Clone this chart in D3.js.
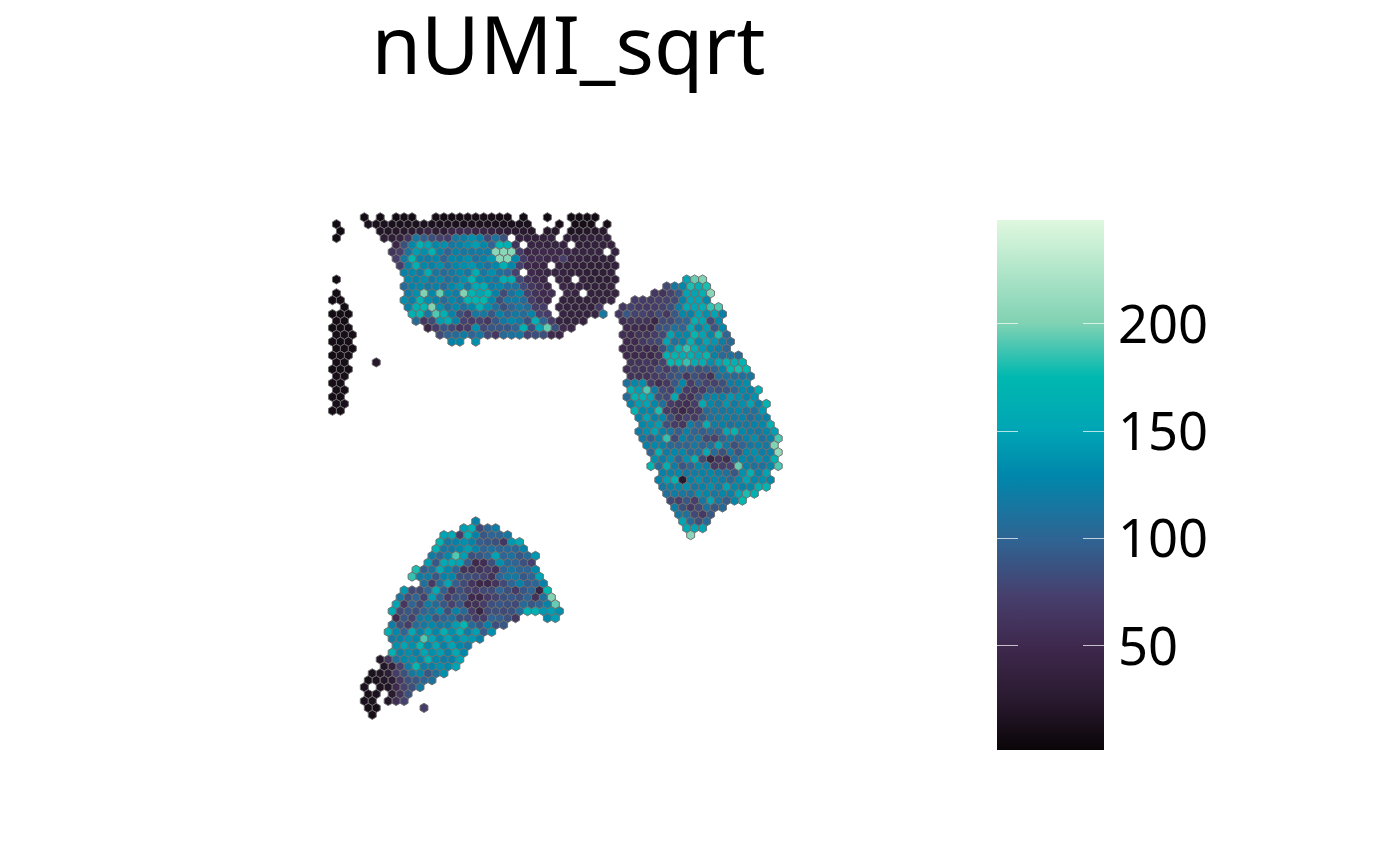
<!DOCTYPE html>
<html>
<head>
<meta charset="utf-8">
<style>
  html, body { margin: 0; padding: 0; background: #fff; }
  text { font-family: "Noto Sans", sans-serif; fill: #000; }
</style>
<script src="https://cdn.jsdelivr.net/npm/d3@7"></script>
</head>
<body>
<svg id="chart"></svg>
<script>
const _ = null; // no spot at this grid position

// each row: [array row, first array col, values every second col...]
const leftStrip = [
  [1,-7, 9], [2,-6, 8], [3,-7, 9], [9,-7, 8], [11,-7, 9], [12,-8, 8,10], [13,-5, 9],
  [14,-8, 9,10,8], [15,-7, 10,9], [16,-8, 9,10,9], [17,-7, 10,11,10], [18,-8, 10,9,10],
  [19,-7, 10,11,9], [20,-8, 9,10,10], [21,-7, 11,10], [21,3, 22], [22,-8, 9,10,10],
  [23,-7, 12,11], [24,-8, 10,12], [25,-7, 11,12], [26,-8, 11,10], [27,-7, 12,13], [28,-8, 10,11]
];

const topSection = [
  [0,0, 9,_,9,_,8,10,9,_,_,10,9,9,10,10,10,11,10,9,9,_,9,_,_,8,_,_,9,9,9,8],
  [1,1, 14,14,14,13,14,15,14,15,14,14,15,14,13,14,15,14,14,14,13,13,14,_,_,_,10,_,10,10,10,_,10],
  [2,4, 18,20,22,24,26,34,45,32,30,45,50,55,45,45,40,35,30,25,25,22,_,22,22,_,16,18,22,22,24],
  [3,5, 30,32,38,60,115,95,85,75,70,115,120,135,125,80,110,85,_,38,35,35,35,38,_,30,30,32,34,34,34],
  [4,8, 45,85,130,165,150,130,135,115,125,135,145,130,100,170,165,60,_,42,40,38,40,38,_,32,34,36,36,36],
  [5,7, 62,72,110,145,135,165,125,100,125,115,115,120,120,205,205,205,70,45,48,50,48,48,45,42,40,40,40,_,38],
  [6,8, 72,115,175,125,120,130,100,130,125,135,110,125,140,205,205,130,68,50,52,48,50,72,40,38,36,34,34,34],
  [7,9, 70,125,165,130,125,135,110,130,135,140,125,110,130,165,130,75,50,45,42,_,38,36,34,34,32,32,32,34],
  [8,10, 125,130,120,160,115,105,115,130,115,160,115,135,110,100,75,_,50,45,42,40,38,36,34,32,30,32,34],
  [9,11, 130,125,135,115,130,110,115,135,170,130,125,115,160,160,80,60,50,45,_,40,35,_,35,32,30,32,34],
  [10,10, 105,125,130,115,125,105,130,140,115,155,160,120,130,110,110,80,65,55,45,_,45,40,38,35,35,35,36],
  [11,11, 120,135,200,130,195,130,120,200,170,150,170,125,80,110,130,75,60,50,55,_,45,40,_,36,36,36,40],
  [12,10, 135,125,170,135,125,105,130,115,170,170,175,130,85,115,120,105,70,55,48,_,38,36,36,36,36,38,40],
  [13,11, 125,165,175,200,135,110,130,110,130,165,135,110,85,100,115,105,70,70,_,40,38,36,38,38,65],
  [14,12, 165,175,115,190,165,125,85,70,115,115,90,125,100,115,105,125,75,70,_,40,38,38,38,40,115],
  [15,13, 105,65,80,145,160,125,75,70,75,65,90,115,130,115,85,165,100,70,40,38,38,38],
  [16,16, 45,70,90,80,65,70,135,80,90,90,90,100,165,85,150,195,85,50,45],
  [17,19, 80,100,105,120,100,115,80,65,105,110,115,75,85,85,50,45],
  [18,22, 125,130,_,135]
];

const rightSection = [
  [9,81, 150,195,200],
  [10,76, 80,115,130,180,165,180],
  [11,73, 65,60,75,90,150,150,165,205],
  [12,68, 70,70,68,72,75,80,125,150,150,130],
  [13,65, 65,75,68,68,70,75,85,120,155,150,160,185,190],
  [14,64, 65,90,75,75,68,80,65,90,130,125,150,135,150,125],
  [15,65, 55,60,60,60,45,80,80,95,100,165,150,80,130],
  [16,66, 50,50,50,48,85,90,110,100,155,125,145,90,130],
  [17,65, 55,50,60,60,70,80,150,130,130,175,150,130,180,100],
  [18,66, 50,50,65,75,80,150,110,125,165,130,150,140,120,105],
  [19,65, 50,50,55,50,55,85,130,165,185,160,140,130,120,100],
  [20,66, 48,48,50,48,60,165,170,160,165,150,175,125,105,110,105],
  [21,67, 60,60,65,60,75,175,175,185,160,160,135,150,170,165,170],
  [22,66, 55,65,60,65,80,70,85,100,95,85,90,100,125,175,180,175],
  [23,67, 60,60,60,68,75,85,90,65,85,75,60,110,110,105,110,115],
  [24,66, 110,130,135,70,55,65,90,130,70,90,75,75,85,120,125,135],
  [25,67, 165,145,190,120,80,75,120,70,65,70,90,85,90,100,130,125,160],
  [26,66, 105,170,165,150,85,80,155,65,60,85,120,130,125,140,135,125,135],
  [27,67, 125,145,150,130,110,70,60,55,70,155,130,115,140,120,135,150,125,170],
  [28,68, 170,130,130,180,70,60,48,60,68,105,115,115,120,130,115,110,140],
  [29,69, 125,150,125,130,85,60,75,68,90,110,120,125,115,125,105,120,125],
  [30,70, 130,135,145,85,70,65,120,100,160,120,125,110,120,115,125,130,165],
  [31,69, 120,135,150,125,115,95,125,100,95,105,100,150,170,130,120,115,130,145],
  [32,70, 115,95,125,185,80,125,105,115,80,75,100,120,105,125,135,110,125,190],
  [33,71, 125,130,125,105,100,100,115,100,110,150,115,85,100,115,125,115,200],
  [34,72, 100,165,120,130,130,105,110,155,105,85,115,90,130,135,120,125,210],
  [35,73, 135,120,135,100,135,165,80,42,65,55,110,130,120,135,125,165],
  [36,72, 175,105,165,120,90,100,130,120,68,72,75,195,125,110,110,130,190],
  [37,75, 125,125,130,115,120,125,130,120,110,90,135,165,125,150],
  [38,74, 125,145,170,25,125,135,120,130,120,105,130,150,130,135,130],
  [39,75, 115,125,130,135,115,125,135,120,150,130,125,130,165,170],
  [40,76, 110,120,115,110,135,130,115,130,125,150,180,165],
  [41,77, 80,72,90,72,115,150,115,95,130,175],
  [42,78, 120,85,68,80,110,90,105],
  [43,79, 115,110,80,68,90],
  [44,80, 150,105,85,105],
  [45,81, 155,150,150],
  [46,82, 205]
];

const bottomSection = [
  [44,28, 125],
  [45,25, 145,165,80,100,120],
  [46,20, 150,155,70,165,125,90,100,100,115],
  [47,19, 170,115,125,135,125,95,90,85,65,140,155],
  [48,18, 165,115,115,130,145,125,100,110,100,105,100,125],
  [49,17, 120,100,130,190,145,85,90,100,150,100,110,90,105,140],
  [50,16, 145,90,155,155,150,95,50,55,85,135,105,100,85,75],
  [51,13, 180,95,110,155,130,100,60,60,60,70,58,100,115,100,100,130],
  [52,12, 185,120,120,90,125,130,85,85,80,75,60,100,115,115,90,100,150],
  [53,15, 110,68,110,150,95,80,62,48,48,62,80,100,125,95,100,125],
  [54,10, 140,80,80,100,155,95,65,85,75,68,80,80,100,85,68,90,100,42,175],
  [55,9, 115,85,100,75,145,100,70,85,85,50,48,68,75,85,90,85,100,60,110,200],
  [56,8, 150,65,100,80,120,105,90,75,90,55,58,70,85,90,85,80,105,90,100,125,195],
  [57,7, 155,80,90,85,100,110,135,85,125,105,70,42,80,85,80,85,105,165,165,140,145,135],
  [58,8, 50,90,75,115,125,90,100,110,85,85,70,70,100,95,85,65,_,_,_,130,145],
  [59,7, 120,85,70,105,115,130,115,120,145,175,105,90,125,85,90],
  [60,6, 165,130,100,155,125,150,130,165,135,165,120,145,95,135],
  [61,7, 115,125,135,130,190,150,130,150,130,145,140,125],
  [62,8, 135,150,135,175,130,155,125,150,130,115],
  [63,7, 165,125,135,125,150,135,145,125,155,130],
  [64,4, 20,65,110,130,135,125,165,130,120,125,150],
  [65,5, 20,35,75,120,175,120,125,135,130,150],
  [66,2, 15,18,30,70,85,115,130,90,110,135],
  [67,1, 12,15,20,28,65,85,90,100,110],
  [68,0, 14,_,16,18,50,75,85,115],
  [69,1, 12,14,_,25,60,85],
  [70,0, 14,16,_,20,55,75],
  [71,1, 10,12],
  [71,15, 70],
  [72,2, 10]
];

// colour bar stops
const colorValues = [1.3, 25, 50, 73, 100, 129, 150, 175, 200, 248];
const colorHexes = ["#0a0508", "#2a1a30", "#3f294e", "#473f6d", "#2e6594", "#0087ab", "#00a5b5", "#00b8b0", "#80d2b3", "#dff8df"];
const legendTicks = [50, 100, 150, 200];
const titleText = "nUMI_sqrt";

const width = 1400, height = 865;
const svg = d3.select("#chart").attr("width", width).attr("height", height)
  .style("display", "block");

const color = d3.scaleLinear().domain(colorValues).range(colorHexes);

// array col/row to pixels
const x = d3.scaleLinear().domain([0, 100]).range([364.3, 762.3]);
const y = d3.scaleLinear().domain([0, 72]).range([217.3, 714.8]);
const legendY = d3.scaleLinear().domain([1.3, 248]).range([750, 220]);

// flatten the rows into single spots
var spots = [];
[leftStrip, topSection, rightSection, bottomSection].forEach(function (section) {
  section.forEach(function (row) {
    row.slice(2).forEach(function (v, i) {
      if (v !== null) spots.push({ row: row[0], col: row[1] + i * 2, value: v });
    });
  });
});

// pointy top hexagon
const r = 4.6;
const hexPath = d3.line()(d3.range(6).map(function (i) {
  const a = Math.PI / 3 * i + Math.PI / 6;
  return [r * Math.cos(a), r * Math.sin(a)];
})) + "Z";

svg.append("g").selectAll("path")
  .data(spots)
  .enter()
  .append("path")
  .attr("d", hexPath)
  .attr("transform", function (d) { return "translate(" + x(d.col) + "," + y(d.row) + ")"; })
  .attr("fill", function (d) { return color(d.value); })
  .attr("stroke", "#6e6e6e")
  .attr("stroke-width", 0.95);

svg.append("text")
  .attr("x", 568.5)
  .attr("y", 74)
  .attr("text-anchor", "middle")
  .attr("font-size", 80.3)
  .text(titleText);

// legend
const barLeft = 997, barRight = 1104, tickLen = 21;
const gradient = svg.append("defs").append("linearGradient")
  .attr("id", "bar").attr("x1", 0).attr("x2", 0).attr("y1", 1).attr("y2", 0);
gradient.selectAll("stop")
  .data(colorValues)
  .enter()
  .append("stop")
  .attr("offset", function (d) { return (d - 1.3) / (248 - 1.3); })
  .attr("stop-color", function (d) { return color(d); });

svg.append("rect")
  .attr("x", barLeft)
  .attr("y", legendY(248))
  .attr("width", barRight - barLeft)
  .attr("height", legendY(1.3) - legendY(248))
  .attr("fill", "url(#bar)");

svg.append("g").selectAll("path")
  .data(legendTicks)
  .enter()
  .append("path")
  .attr("d", function (d) {
    const t = Math.round(legendY(d)) + 0.5;
    return "M" + barLeft + "," + t + "h" + tickLen + "M" + (barRight - tickLen) + "," + t + "h" + tickLen;
  })
  .attr("stroke", "#fff")
  .attr("stroke-opacity", 0.7)
  .attr("stroke-width", 1.2);

const legendAxis = svg.append("g")
  .attr("transform", "translate(" + barRight + ",0)")
  .call(d3.axisRight(legendY).tickValues(legendTicks).tickSize(0).tickPadding(14));
legendAxis.select(".domain").remove();
legendAxis.selectAll("text")
  .attr("dy", "0.36em")
  .attr("font-size", 52.5)
  .attr("font-family", '"Noto Sans", sans-serif')
  .attr("fill", "#000");
</script>
</body>
</html>
